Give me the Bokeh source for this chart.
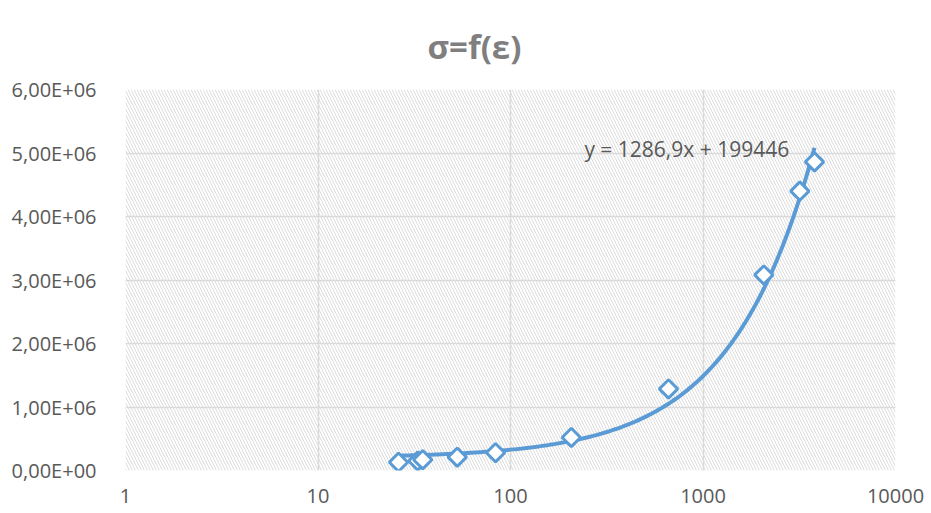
from bokeh.plotting import figure
from bokeh.models import FixedTicker, BoxAnnotation, Label, Range1d
from bokeh.embed import file_html
from bokeh.resources import INLINE
import numpy as np

# data (strain, stress)
eps = [26.2, 33.0, 35.0, 52.9, 83.6, 207, 662, 2070, 3184, 3795]
sigma = [0.13e6, 0.15e6, 0.17e6, 0.21e6, 0.28e6, 0.52e6, 1.285e6, 3.08e6, 4.40e6, 4.86e6]

# linear trendline coefficients shown on the chart
slope = 1286.9
intercept = 199446
eq_text = "y = 1286,9x + 199446"
title_text = "σ=f(ε)"

x_ticks = [1, 10, 100, 1000, 10000]
x_tick_labels = ["1", "10", "100", "1000", "10000"]
y_ticks = [0, 1e6, 2e6, 3e6, 4e6, 5e6, 6e6]
y_tick_labels = ["0,00E+00", "1,00E+06", "2,00E+06", "3,00E+06", "4,00E+06", "5,00E+06", "6,00E+06"]

BLUE = "#5b9bd5"
GRID = "#d9d9d9"
TXT = "#595959"
FONT = "Open Sans"

p = figure(width=931, height=513, x_axis_type="log", output_backend="svg",
           toolbar_location=None, x_range=Range1d(1, 10000), y_range=Range1d(0, 6e6),
           min_border_left=125, min_border_right=36, min_border_top=87, min_border_bottom=43)
p.title.text = title_text
p.title.text_font = FONT
p.title.text_font_size = "33px"
p.title.text_font_style = "bold"
p.title.text_color = "#7f7f7f"
p.title.align = "left"
p.title.offset = 302
p.title.standoff = 42
p.outline_line_color = None
p.background_fill_color = "white"

# hatched plot area
p.add_layout(BoxAnnotation(left=1, right=10000, bottom=0, top=6e6, fill_color=None,
                           line_color=None, hatch_pattern="left_diagonal_line",
                           hatch_color="#dcdcdc", hatch_scale=6, hatch_weight=1,
                           level="underlay"))

for ax in (p.xaxis[0], p.yaxis[0]):
    ax.axis_line_color = None
    ax.major_tick_line_color = None
    ax.minor_tick_line_color = None
    ax.major_label_text_font = FONT
    ax.major_label_text_font_size = "20px"
    ax.major_label_text_color = TXT

p.xaxis.ticker = FixedTicker(ticks=x_ticks, minor_ticks=[])
p.xaxis.major_label_overrides = {t: l for t, l in zip(x_ticks, x_tick_labels)}
p.xaxis.major_label_standoff = 12
p.yaxis.ticker = FixedTicker(ticks=y_ticks, minor_ticks=[])
p.yaxis.major_label_overrides = {t: l for t, l in zip(y_ticks, y_tick_labels)}
p.yaxis.major_label_standoff = 23

p.xgrid.grid_line_color = GRID
p.ygrid.grid_line_color = GRID
p.xgrid.grid_line_width = 1.5
p.ygrid.grid_line_width = 1.5

# trendline from the fitted coefficients over the data range
xt = np.logspace(np.log10(min(eps)), np.log10(max(eps)), 200)
yt = slope * xt + intercept
p.line(xt, yt, line_color=BLUE, line_width=4)

p.scatter(eps, sigma, marker="square", angle=np.pi / 4, size=13, fill_color="white",
          line_color=BLUE, line_width=3)

p.add_layout(Label(x=242, y=5.06e6, text=eq_text, text_font=FONT,
                   text_font_size="21px", text_color=TXT, text_baseline="middle",
                   text_align="left"))

open("out.html", "w").write(file_html(p, INLINE))
